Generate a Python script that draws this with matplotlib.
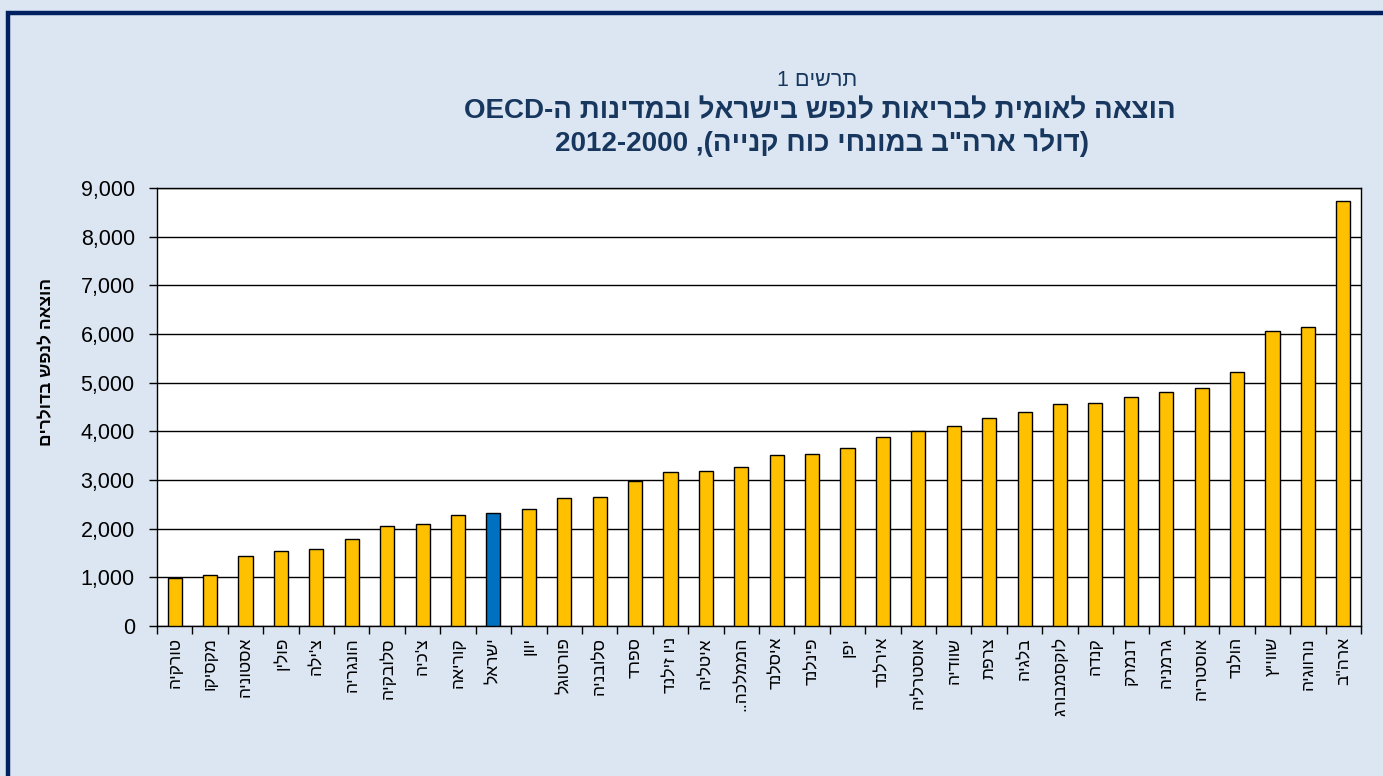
import matplotlib
matplotlib.use("Agg")
import matplotlib.pyplot as plt
from matplotlib.patches import Rectangle
from matplotlib.ticker import FuncFormatter, MultipleLocator, FixedLocator

plt.rcParams['font.family'] = ['Liberation Sans', 'DejaVu Sans']

countries = ["טורקיה", "מקסיקו", "אסטוניה", "פולין", "צ'ילה", "הונגריה", "סלובקיה",
             "צ'כיה", "קוריאה", "ישראל", "יוון", "פורטוגל", "סלובניה", "ספרד",
             "ניו זילנד", "איטליה", "הממלכה..", "איסלנד", "פינלנד", "יפן", "אירלנד",
             "אוסטרליה", "שוודיה", "צרפת", "בלגיה", "לוקסמבורג", "קנדה", "דנמרק",
             "גרמניה", "אוסטריה", "הולנד", "שווייץ", "נורווגיה", 'ארה"ב']
values = [990, 1050, 1440, 1540, 1580, 1790, 2050, 2090, 2280, 2320, 2400, 2620,
          2650, 2980, 3160, 3180, 3270, 3510, 3540, 3650, 3890, 4000, 4110, 4270,
          4400, 4560, 4590, 4700, 4810, 4890, 5210, 6070, 6140, 8740]
highlight = "ישראל"

title_small = "תרשים"
title_line1 = "הוצאה לאומית לבריאות לנפש בישראל ובמדינות ה"
title_line2 = '(דולר ארה"ב במונחי כוח קנייה)'
ylabel = "הוצאה לנפש בדולרים"


def vis(s):
    """Visual (left-to-right) order for a pure Hebrew string."""
    return s[::-1]


def vis_paren(s):
    v = vis(s)
    return v.replace("(", "\0").replace(")", "(").replace("\0", ")")


BG = "#DCE6F2"
NAVY = "#002060"
TITLE_C = "#17375E"
GOLD = "#FFC000"
BLUE = "#0070C0"

fig = plt.figure(figsize=(13.83, 7.76), dpi=100, facecolor=BG)

# outer frame (left and top edges visible)
fig.add_artist(Rectangle((8 / 1383, -0.1), 1.2, 1.1 - 13 / 776,
                         transform=fig.transFigure, facecolor="none",
                         edgecolor=NAVY, linewidth=3.2, zorder=0))

ax = fig.add_axes([157 / 1383, 1 - 626 / 776, (1361 - 157) / 1383, (626 - 188) / 776])
ax.set_facecolor("white")

x = list(range(len(countries)))
colors = [BLUE if c == highlight else GOLD for c in countries]
ax.bar(x, values, width=0.40, color=colors, edgecolor="black", linewidth=1.0, zorder=3)

ax.set_xlim(-0.5, len(countries) - 0.5)
ax.set_ylim(0, 9000)
ax.yaxis.set_major_locator(MultipleLocator(1000))
ax.yaxis.set_major_formatter(FuncFormatter(lambda v, p: f"{int(v):,}"))
ax.grid(axis="y", color="black", linewidth=1.0, zorder=1)
ax.set_axisbelow(True)

ax.set_xticks(x)
ax.set_xticklabels([vis(c) for c in countries], rotation=90, fontsize=12.5, va="top")
ax.tick_params(axis="x", which="major", length=0, pad=8)
ax.xaxis.set_minor_locator(FixedLocator([i - 0.5 for i in range(len(countries) + 1)]))
ax.tick_params(axis="x", which="minor", length=6, width=1.0, color="black")
ax.tick_params(axis="y", length=6, width=1.0, labelsize=15.5, pad=10)

for s in ax.spines.values():
    s.set_color("black")
    s.set_linewidth(1.0)

fig.text(47 / 1383, 1 - 362 / 776, vis(ylabel), rotation=90, ha="center", va="center",
         fontsize=12.5, fontweight="bold")

fig.text(817 / 1383, 1 - 80 / 776, "1 " + vis(title_small), ha="center",
         va="center", fontsize=15.5, color=TITLE_C)
fig.text(820 / 1383, 1 - 111 / 776, "OECD-" + vis(title_line1), ha="center", va="center",
         fontsize=20, fontweight="bold", color=TITLE_C)
fig.text(822 / 1383, 1 - 143 / 776, "2012-2000 ," + vis_paren(title_line2),
         ha="center", va="center", fontsize=20, fontweight="bold", color=TITLE_C)

fig.savefig("out.png", dpi=100, facecolor=BG)
